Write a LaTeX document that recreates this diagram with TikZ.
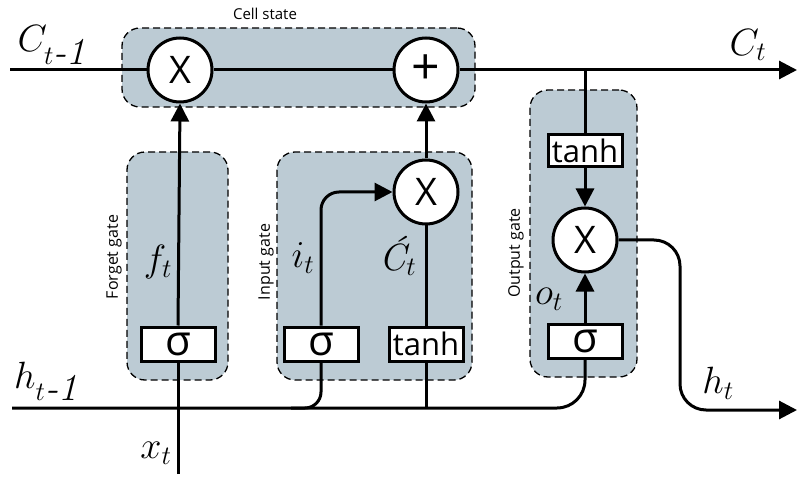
\RequirePackage{fix-cm}
\documentclass[tikz,border=0pt]{standalone}
\usepackage{fontspec}
\setsansfont{Open Sans}
\usetikzlibrary{arrows.meta,calc,positioning}
\definecolor{Gate}{HTML}{BCCBD4}
\definecolor{Ink}{HTML}{000000}

\begin{document}
\begin{tikzpicture}[x=1pt,y=-1pt,
    gatebox/.style={draw=Ink,fill=Gate,line width=1.3pt,dash pattern=on 7pt off 4pt,rounded corners=18pt,inner sep=0pt},
    opnode/.style={circle,draw=Ink,fill=white,line width=3pt,minimum size=64pt,inner sep=0pt,font=\sffamily\fontsize{38}{38}\selectfont},
    fnbox/.style={rectangle,draw=Ink,fill=white,line width=3pt,minimum width=74pt,minimum height=34pt,inner sep=0pt,font=\sffamily\fontsize{31}{31}\selectfont},
    wire/.style={draw=Ink,line width=3pt},
    arrow/.style={wire,-{Triangle[length=18pt,width=18pt]}},
    gatelabel/.style={rotate=90,font=\sffamily\fontsize{16}{18}\selectfont},
    mathlabel/.style={font=\fontsize{38}{40}\selectfont}]
    \useasboundingbox (0,0) rectangle (797,478);

    % gate areas
    \node[gatebox,minimum width=353pt,minimum height=79pt] (cellbox) at (298.5,67.5) {};
    \node[gatebox,minimum width=101pt,minimum height=228pt] (forgetbox) at (177.5,266) {};
    \node[gatebox,minimum width=195pt,minimum height=228pt] (inputbox) at (374.5,266) {};
    \node[gatebox,minimum width=107pt,minimum height=287pt] (outputbox) at (583.5,233.5) {};

    \node[font=\sffamily\fontsize{15}{17}\selectfont] (celllbl) at (265,14) {Cell state};
    \node[gatelabel] (forgetlbl) at (114,257) {Forget gate};
    \node[gatelabel] (inputlbl) at (266,262) {Input gate};
    \node[gatelabel] (outputlbl) at (516,253) {Output gate};

    % operations
    \node[opnode] (mulf) at (180,70) {X};
    \node[opnode,font=\sffamily\fontsize{50}{50}\selectfont] (add) at (426,70) {+};
    \node[opnode] (muli) at (426,192) {X};
    \node[opnode] (mulo) at (585,240) {X};

    \node[fnbox,font=\sffamily\fontsize{42}{42}\selectfont] (sigf) at (178,344) {σ};
    \node[fnbox,font=\sffamily\fontsize{42}{42}\selectfont] (sigi) at (321,344) {σ};
    \node[fnbox] (tanhi) at (426,344) {tanh};
    \node[fnbox,minimum height=32pt] (tanho) at (585,151) {tanh};
    \node[fnbox,font=\sffamily\fontsize{42}{42}\selectfont] (sigo) at (585,341) {σ};

    % free ends
    \coordinate (cin) at (10,70);
    \coordinate (cout) at (797,70);
    \coordinate (ctap) at (585,70);
    \coordinate (hin) at (12,408);
    \coordinate (hout) at (797,410);
    \coordinate (xin) at (178,474);

    % cell state
    \draw[wire] (cin) -- (mulf.west);
    \draw[wire] (mulf.east) -- (add.west);
    \draw[arrow] (add.east) -- (cout);
    \draw[wire] (ctap) -- (tanho.north);

    % hidden state and input
    \draw[wire,rounded corners=28pt] (hin) -- (sigo.south |- hin) -- (sigo.south);
    \draw[wire] (xin) -- (sigf.south);
    \draw[wire,rounded corners=16pt] (sigi.south) |- ($(sigi.south |- hin)+(-30,0)$);
    \draw[wire] (tanhi.south) -- (tanhi.south |- hin);

    % gates
    \draw[arrow] (sigf.north) -- (mulf.south);
    \draw[arrow,rounded corners=18pt] (sigi.north) |- (muli.west);
    \draw[wire] (tanhi.north) -- (muli.south);
    \draw[arrow] (muli.north) -- (add.south);
    \draw[arrow] (tanho.south) -- (mulo.north);
    \draw[arrow] (sigo.north) -- (mulo.south);
    \draw[arrow,rounded corners=26pt] (mulo.east) -| ($(hout)+(-117,0)$) -- (hout);

    % signal labels
    \node[mathlabel] (ctm1) at (52,45) {$C_{t\textit{-1}}$};
    \node[mathlabel] (ct) at (748,45) {$C_t$};
    \node[mathlabel] (ft) at (158,262) {$f_t$};
    \node[mathlabel] (it) at (303,258) {$i_t$};
    \node[mathlabel] (cct) at (398,256) {$\textit{Ć}_t$};
    \node[mathlabel] (ot) at (549,299) {$o_t$};
    \node[mathlabel] (htm1) at (46,381) {$h_{t\textit{-1}}$};
    \node[mathlabel] (ht) at (718,383) {$h_t$};
    \node[mathlabel] (xt) at (156,453) {$x_t$};
\end{tikzpicture}
\end{document}
